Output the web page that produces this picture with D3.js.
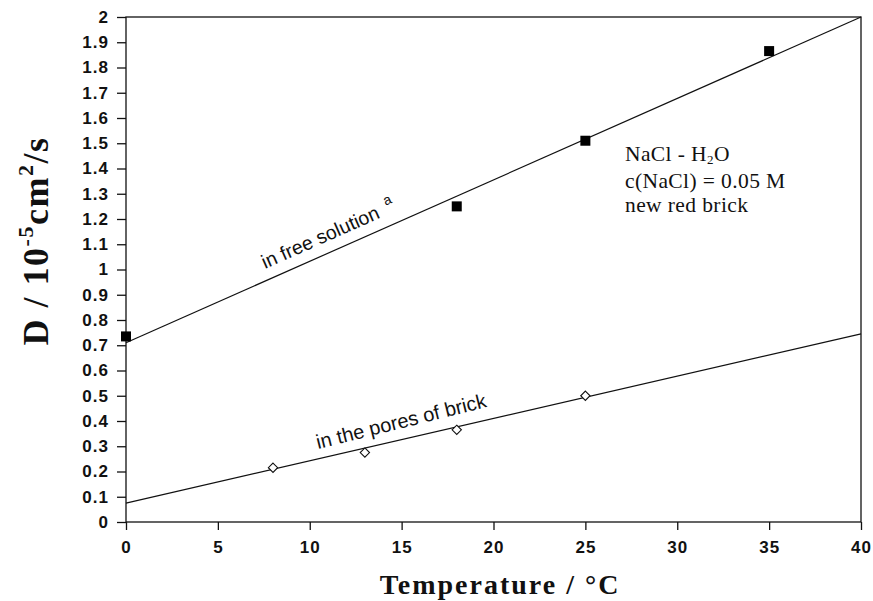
<!DOCTYPE html>
<html>
<head>
<meta charset="utf-8">
<style>
  body { margin: 0; background: #fff; }
  .tick text { font-family: "Liberation Sans", Arial, sans-serif; font-size: 17px; font-weight: bold; letter-spacing: 1px; }
</style>
</head>
<body>
<svg id="chart" width="873" height="601" xmlns="http://www.w3.org/2000/svg"></svg>
<script src="https://d3js.org/d3.v7.min.js"></script>
<script>
// data
const freeT = [0, 18, 25, 35];
const freeD = [0.735, 1.25, 1.51, 1.865];
const poresT = [8, 13, 18, 25];
const poresD = [0.215, 0.275, 0.365, 0.5];
// fitted lines: [D at 0 degC, D at 40 degC]
const freeFit = [0.71, 2.0];
const poresFit = [0.075, 0.745];
const xTicks = [0, 5, 10, 15, 20, 25, 30, 35, 40];
const yTicks = d3.range(0, 21).map(i => i / 10);

const margin = { left: 126, right: 12, top: 17, bottom: 79 };
const width = 873, height = 601;

const svg = d3.select("#chart");

const x = d3.scaleLinear().domain([0, 40]).range([margin.left, width - margin.right]);
const y = d3.scaleLinear().domain([0, 2]).range([height - margin.bottom, margin.top]);

// frame
svg.append("rect")
  .attr("x", x(0))
  .attr("y", y(2))
  .attr("width", x(40) - x(0))
  .attr("height", y(0) - y(2))
  .attr("fill", "none")
  .attr("stroke", "#111")
  .attr("stroke-width", 1.3);

// axes
const xAxis = svg.append("g")
  .attr("transform", `translate(0,${y(0)})`)
  .call(d3.axisBottom(x).tickValues(xTicks).tickSize(8).tickPadding(11).tickFormat(d3.format("d")));
xAxis.select(".domain").remove();

const yAxis = svg.append("g")
  .attr("transform", `translate(${x(0)},0)`)
  .call(d3.axisLeft(y).tickValues(yTicks).tickSize(9).tickPadding(8).tickFormat(d => d3.format("")(d)));
yAxis.select(".domain").remove();

svg.selectAll(".tick line").attr("stroke", "#111").attr("stroke-width", 1.3);
svg.selectAll(".tick text").attr("fill", "#111");

// fit lines
const line = d3.line().x(d => x(d[0])).y(d => y(d[1]));
[freeFit, poresFit].forEach(f => {
  svg.append("path")
    .attr("d", line([[0, f[0]], [40, f[1]]]))
    .attr("fill", "none")
    .attr("stroke", "#111")
    .attr("stroke-width", 1.2);
});

// free solution points (filled squares)
svg.selectAll(".free")
  .data(freeT)
  .enter().append("rect")
  .attr("x", (d, i) => x(d) - 5)
  .attr("y", (d, i) => y(freeD[i]) - 5)
  .attr("width", 10)
  .attr("height", 10)
  .attr("fill", "#000");

// pores points (open diamonds)
svg.selectAll(".pore")
  .data(poresT)
  .enter().append("path")
  .attr("d", d3.symbol().type(d3.symbolDiamond2).size(55))
  .attr("transform", (d, i) => `translate(${x(d)},${y(poresD[i])})`)
  .attr("fill", "#fff")
  .attr("stroke", "#111")
  .attr("stroke-width", 1.1);

// line labels
const angle = f => Math.atan2(y(f[0]) - y(f[1]), x(40) - x(0)) * 180 / Math.PI;

const t1 = svg.append("text")
  .attr("transform", `translate(265,269) rotate(${-angle(freeFit)})`)
  .attr("font-family", "'Liberation Sans', Arial, sans-serif")
  .attr("font-size", 19.5)
  .attr("fill", "#111");
t1.append("tspan").text("in free solution");
t1.append("tspan").attr("dx", 9).attr("dy", -9).attr("font-size", 14).text("a");

svg.append("text")
  .attr("transform", `translate(318,449) rotate(${-angle(poresFit) - 1})`)
  .attr("font-family", "'Liberation Sans', Arial, sans-serif")
  .attr("font-size", 20)
  .attr("fill", "#111")
  .text("in the pores of brick");

// annotation, one text per line
const noteFont = "'Liberation Serif', 'Times New Roman', serif";
const n1 = svg.append("text")
  .attr("x", 625).attr("y", 161)
  .attr("font-family", noteFont)
  .attr("font-size", 21.5)
  .attr("letter-spacing", 0.4)
  .attr("fill", "#111");
n1.append("tspan").text("NaCl - H");
n1.append("tspan").attr("font-size", 13).attr("dy", 3).text("2");
n1.append("tspan").attr("dy", -3).text("O");
["c(NaCl) = 0.05 M", "new red brick"].forEach((s, i) => {
  svg.append("text")
    .attr("x", 625).attr("y", 188 + i * 24)
    .attr("font-family", noteFont)
    .attr("font-size", 21.5)
    .attr("letter-spacing", 0.4)
    .attr("fill", "#111")
    .text(s);
});

// axis titles
svg.append("text")
  .attr("x", 500)
  .attr("y", 594)
  .attr("text-anchor", "middle")
  .attr("font-family", "'Liberation Serif', 'Times New Roman', serif")
  .attr("font-weight", "bold")
  .attr("font-size", 28)
  .attr("letter-spacing", 2)
  .attr("fill", "#111")
  .text("Temperature / °C");

const yl = svg.append("text")
  .attr("transform", "translate(48,241) rotate(-90)")
  .attr("text-anchor", "middle")
  .attr("font-family", "'Liberation Serif', 'Times New Roman', serif")
  .attr("font-weight", "bold")
  .attr("font-size", 36)
  .attr("letter-spacing", 1.5)
  .attr("fill", "#111");
yl.append("tspan").text("D / 10");
yl.append("tspan").attr("dy", -15).attr("font-size", 22).text("-5");
yl.append("tspan").attr("dy", 15).text("cm");
yl.append("tspan").attr("dy", -15).attr("font-size", 22).text("2");
yl.append("tspan").attr("dy", 15).text("/s");
</script>
</body>
</html>
